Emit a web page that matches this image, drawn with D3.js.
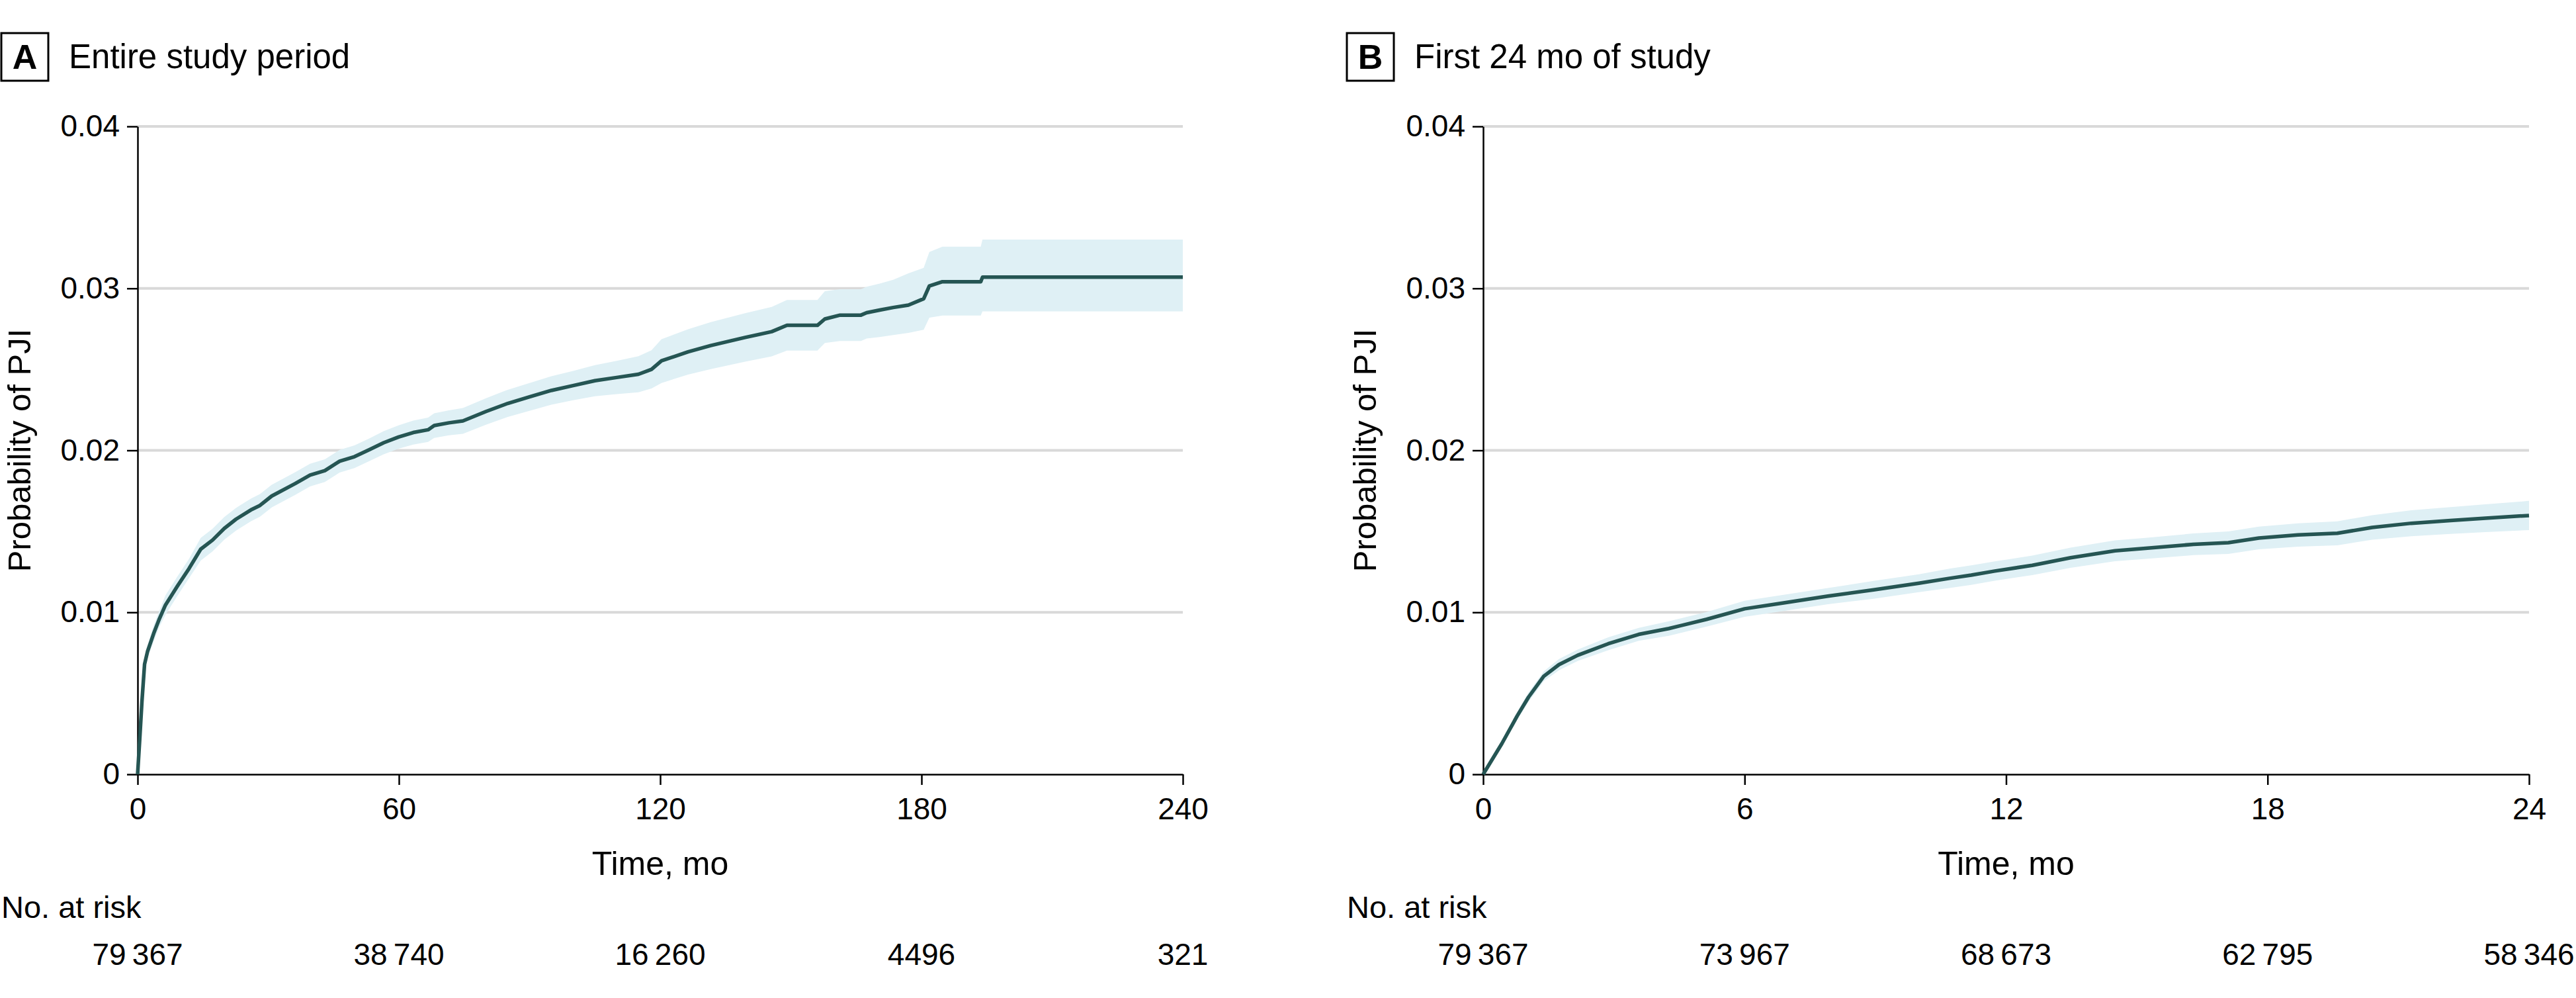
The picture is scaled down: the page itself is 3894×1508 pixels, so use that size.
<!DOCTYPE html>
<html>
<head>
<meta charset="utf-8">
<script src="https://cdn.jsdelivr.net/npm/d3@7"></script>
<style>
  html, body { margin: 0; padding: 0; background: #fff; }
  svg { display: block; font-family: "Liberation Sans", Arial, sans-serif; }
</style>
</head>
<body>
<svg id="chart" width="3894" height="1508"></svg>
<script>
// ---------- Data ----------
const panelLetters = ["A", "B"];
const panelTitles = ["Entire study period", "First 24 mo of study"];
const yTicks = [0, 0.01, 0.02, 0.03, 0.04];
const yTickLabels = ["0", "0.01", "0.02", "0.03", "0.04"];
const xTicksA = [0, 60, 120, 180, 240];
const xTicksB = [0, 6, 12, 18, 24];
const atRiskA = [79367, 38740, 16260, 4496, 321];
const atRiskB = [79367, 73967, 68673, 62795, 58346];

const timeA = [0, 0.5, 1, 1.6, 2.3, 3.7, 5.0, 6.4, 9.1, 11.8, 14.5, 17.2, 19.9, 22.6, 26.0, 28.1, 30.8, 36.2, 39.6, 43.0,
  46.4, 49.8, 53.2, 56.5, 59.9, 63.3, 66.7, 68.1, 71.5, 74.7, 80, 85, 90, 95, 100, 105, 110, 115, 118, 120.3,
  126.4, 131.6, 139.5, 145.6, 149.1, 156.1, 157.8, 161.3, 166.1, 167.4, 170.4, 173.5, 177.0, 180.5, 181.8, 184.8, 193.6, 194.0, 240];
const estA = [0, 0.0022, 0.0045, 0.0068, 0.0076, 0.0087, 0.0096, 0.01045, 0.0116, 0.0127, 0.0139, 0.01446, 0.01518, 0.01575, 0.01632, 0.0166, 0.01718, 0.01795, 0.01847, 0.01875,
  0.01933, 0.01961, 0.02004, 0.02047, 0.02082, 0.0211, 0.02127, 0.02153, 0.0217, 0.02182, 0.0224, 0.0229, 0.0233, 0.0237, 0.0240, 0.0243, 0.0245, 0.0247, 0.0250, 0.02553,
  0.02608, 0.02647, 0.02697, 0.02733, 0.02772, 0.02772, 0.02811, 0.02835, 0.02835, 0.0285, 0.02866, 0.02882, 0.02897, 0.02936, 0.03015, 0.03041, 0.03041, 0.03069, 0.03069];
const lowA = [0, 0.0020, 0.0042, 0.0064, 0.0072, 0.0082, 0.0091, 0.00985, 0.0110, 0.0121, 0.0132, 0.01376, 0.01448, 0.01505, 0.01562, 0.0159, 0.01648, 0.01725, 0.01777, 0.01805,
  0.01863, 0.01891, 0.01934, 0.01975, 0.0201, 0.02036, 0.02052, 0.02077, 0.02093, 0.02102, 0.02158, 0.02206, 0.02244, 0.02282, 0.0231, 0.02334, 0.02347, 0.02359, 0.02382, 0.02416,
  0.02468, 0.02502, 0.02547, 0.0258, 0.02616, 0.02616, 0.02663, 0.02675, 0.02675, 0.0269, 0.027, 0.02712, 0.02725, 0.02745, 0.02819, 0.02832, 0.02832, 0.02858, 0.02858];
const upA = [0, 0.0024, 0.0048, 0.0072, 0.0080, 0.0092, 0.0101, 0.01105, 0.0122, 0.0133, 0.0146, 0.01516, 0.01588, 0.01645, 0.01702, 0.0173, 0.01788, 0.01865, 0.01917, 0.01945,
  0.02003, 0.02031, 0.02074, 0.02119, 0.02154, 0.02184, 0.02202, 0.02229, 0.02247, 0.02262, 0.02322, 0.02374, 0.02416, 0.02458, 0.0249, 0.02526, 0.02553, 0.02581, 0.02618, 0.02686,
  0.02748, 0.02792, 0.02847, 0.02886, 0.02929, 0.02929, 0.02983, 0.02995, 0.02995, 0.0301, 0.0303, 0.03053, 0.03093, 0.03127, 0.03225, 0.03257, 0.03257, 0.03301, 0.03301];

const timeB = [0, 0.43, 0.78, 1.04, 1.39, 1.74, 2.17, 2.87, 3.57, 4.26, 5.13, 6.0, 6.87, 7.91, 8.96, 10.0, 10.7, 11.2, 11.74, 12.6,
  13.48, 14.5, 15.2, 16.3, 17.1, 17.8, 18.7, 19.6, 20.4, 21.3, 22.2, 23.0, 24];
const estB = [0, 0.0019, 0.0036, 0.00476, 0.00605, 0.00677, 0.00735, 0.00806, 0.00864, 0.009, 0.00957, 0.01022, 0.01057, 0.011, 0.01139, 0.0118, 0.0121, 0.0123, 0.01255, 0.0129,
  0.01337, 0.0138, 0.01395, 0.0142, 0.0143, 0.01459, 0.01478, 0.01488, 0.01524, 0.0155, 0.01567, 0.01581, 0.01598];
const lowB = [0, 0.0017, 0.00335, 0.00446, 0.00575, 0.00642, 0.007, 0.00766, 0.00824, 0.00855, 0.00912, 0.00972, 0.01007, 0.0105, 0.01084, 0.01125, 0.0115, 0.0117, 0.01195, 0.0123,
  0.01275, 0.01316, 0.0133, 0.01353, 0.01361, 0.01389, 0.01406, 0.01414, 0.01448, 0.0147, 0.01484, 0.01495, 0.01508];
const upB = [0, 0.0021, 0.00385, 0.00506, 0.00635, 0.00712, 0.0077, 0.00846, 0.00904, 0.00945, 0.01002, 0.01072, 0.01107, 0.0115, 0.01194, 0.01235, 0.0127, 0.0129, 0.01315, 0.0135,
  0.01399, 0.01444, 0.0146, 0.01487, 0.01499, 0.01529, 0.0155, 0.01562, 0.016, 0.0163, 0.0165, 0.01667, 0.01688];

// ---------- Drawing ----------
const svg = d3.select("#chart");
svg.append("rect").attr("width", 3894).attr("height", 1508).attr("fill", "#fff");

const LINE = "#255553";
const BAND = "#dff0f5";
const GRID = "#d9d9d9";

const fmtRisk = n => n >= 10000 ? d3.format(",")(n).replace(/,/g, "\u2009") : String(n);

const panels = [
  { off: 0, x0: 208, x1: 1788, xMax: 240, xTicks: xTicksA, risk: atRiskA, t: timeA, est: estA, lo: lowA, up: upA },
  { off: 2034, x0: 2242, x1: 3823, xMax: 24, xTicks: xTicksB, risk: atRiskB, t: timeB, est: estB, lo: lowB, up: upB }
];

const yTop = 191, yBot = 1170;

panels.forEach((p, i) => {
  const g = svg.append("g");
  const x = d3.scaleLinear().domain([0, p.xMax]).range([p.x0, p.x1]);
  const y = d3.scaleLinear().domain([0, 0.04]).range([yBot, yTop]);

  // panel letter box + title
  g.append("rect").attr("x", p.off + 2).attr("y", 50).attr("width", 71).attr("height", 72)
    .attr("fill", "none").attr("stroke", "#000").attr("stroke-width", 3);
  g.append("text").attr("x", p.off + 37.5).attr("y", 104).attr("text-anchor", "middle")
    .attr("font-size", 52).attr("font-weight", "bold").attr("fill", "#000").text(panelLetters[i]);
  g.append("text").attr("x", p.off + 104).attr("y", 103)
    .attr("font-size", 51).attr("fill", "#000").text(panelTitles[i]);

  // gridlines
  g.append("g").selectAll("line").data(yTicks.filter(v => v > 0)).join("line")
    .attr("x1", p.x0).attr("x2", p.x1).attr("y1", d => y(d)).attr("y2", d => y(d))
    .attr("stroke", GRID).attr("stroke-width", 4);

  const pts = p.t.map((t, k) => ({ t, e: p.est[k], lo: p.lo[k], up: p.up[k] }));

  // confidence band
  g.append("path").datum(pts)
    .attr("d", d3.area().x(d => x(d.t)).y0(d => y(d.lo)).y1(d => y(d.up)).curve(d3.curveLinear))
    .attr("fill", BAND);

  // axes
  const yAxis = d3.axisLeft(y).tickValues(yTicks).tickFormat((d, k) => yTickLabels[k])
    .tickSize(16).tickSizeOuter(0).tickPadding(11);
  const ya = g.append("g").attr("transform", `translate(${p.x0},0)`).call(yAxis);
  const xAxis = d3.axisBottom(x).tickValues(p.xTicks).tickFormat(d3.format("d"))
    .tickSize(16).tickSizeOuter(0).tickPadding(19);
  const xa = g.append("g").attr("transform", `translate(0,${yBot})`).call(xAxis);
  [ya, xa].forEach(a => {
    a.select(".domain").attr("stroke", "#000").attr("stroke-width", 2.5);
    a.selectAll(".tick line").attr("stroke", "#000").attr("stroke-width", 2.5);
    a.selectAll(".tick text").attr("font-size", 46).attr("fill", "#000")
      .attr("font-family", '"Liberation Sans", Arial, sans-serif');
  });

  // estimate line
  g.append("path").datum(pts)
    .attr("d", d3.line().x(d => x(d.t)).y(d => y(d.e)).curve(d3.curveLinear))
    .attr("fill", "none").attr("stroke", LINE).attr("stroke-width", 5.5).attr("stroke-linejoin", "round");

  // axis titles
  g.append("text").attr("transform", `translate(${p.off + 46},${(yTop + yBot) / 2}) rotate(-90)`)
    .attr("text-anchor", "middle").attr("font-size", 49).attr("fill", "#000").text("Probability of PJI");
  g.append("text").attr("x", (p.x0 + p.x1) / 2).attr("y", 1322).attr("text-anchor", "middle")
    .attr("font-size", 50).attr("fill", "#000").text("Time, mo");

  // number at risk
  g.append("text").attr("x", p.off + 2).attr("y", 1387).attr("font-size", 47).attr("fill", "#000").text("No. at risk");
  g.append("g").selectAll("text").data(p.risk).join("text")
    .attr("x", (d, k) => x(p.xTicks[k])).attr("y", 1458).attr("text-anchor", "middle")
    .attr("font-size", 46).attr("fill", "#000").text(d => fmtRisk(d));
});
</script>
</body>
</html>
